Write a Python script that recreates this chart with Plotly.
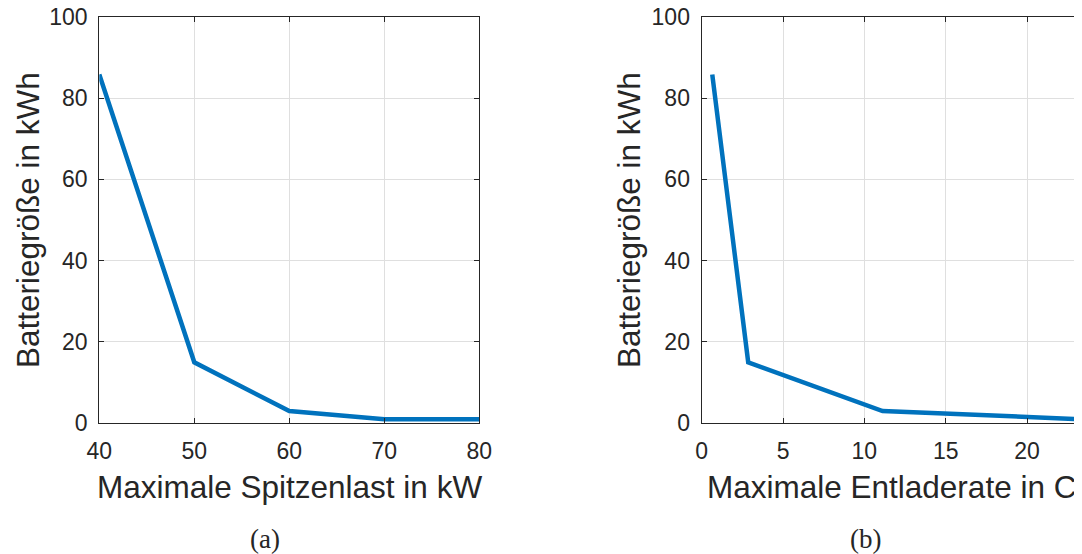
import plotly.graph_objects as go

# Data
peak_load_kw = [40, 50, 60, 70, 80]
battery_kwh_a = [85.8, 15.0, 3.0, 1.0, 1.0]
discharge_rate_c = [0.65, 2.86, 11.12, 23.4]
battery_kwh_b = [85.8, 15.0, 3.0, 1.0]

x_ticks_a = [40, 50, 60, 70, 80]
x_ticks_b = [0, 5, 10, 15, 20]
y_ticks = [0, 20, 40, 60, 80, 100]

PAGE_OFF = 8  # default body margin of the html page
W, H = 1082 - PAGE_OFF, 554 - PAGE_OFF
TXT = "#262626"
LINE = "#0072BD"
GRID = "#dfdfdf"
SANS = "Liberation Sans, Arial, sans-serif"
SERIF = "Liberation Serif, Times New Roman, serif"

fig = go.Figure()
fig.add_trace(go.Scatter(x=peak_load_kw, y=battery_kwh_a, mode="lines",
                         line=dict(color=LINE, width=4.5), xaxis="x", yaxis="y",
                         showlegend=False, cliponaxis=True))
fig.add_trace(go.Scatter(x=discharge_rate_c, y=battery_kwh_b, mode="lines",
                         line=dict(color=LINE, width=4.5), xaxis="x2", yaxis="y2",
                         showlegend=False, cliponaxis=True))

def px_x(p):
    return (p - PAGE_OFF) / W

def px_y(p):
    return 1 - (p - PAGE_OFF) / H

ydom = [px_y(423.3), px_y(16.7)]
common = dict(showline=True, linecolor=TXT, linewidth=1.3, mirror="allticks",
              ticks="inside", ticklen=5, tickwidth=1.2, tickcolor=TXT,
              showgrid=True, gridcolor=GRID, gridwidth=1, zeroline=False,
              ticklabeloverflow="allow",
              tickfont=dict(family=SANS, size=23, color=TXT), automargin=False)

fig.update_layout(
    width=W, height=H,
    margin=dict(l=0, r=0, t=0, b=0),
    paper_bgcolor="white", plot_bgcolor="white",
    xaxis=dict(domain=[px_x(99.3), px_x(479.3)], range=[40, 80], tickvals=x_ticks_a,
               anchor="y", ticklabelstandoff=7, **common),
    yaxis=dict(domain=ydom, range=[0, 100], tickvals=y_ticks, anchor="x",
               ticklabelstandoff=6, **common),
    xaxis2=dict(domain=[px_x(701.7), min(1.0, px_x(1081.5))], range=[0, 23.35],
                tickvals=x_ticks_b, anchor="y2", ticklabelstandoff=7, **common),
    yaxis2=dict(domain=ydom, range=[0, 100], tickvals=y_ticks, anchor="x2",
                ticklabelstandoff=6, **common),
)

annots = [
    dict(text="Maximale Spitzenlast in kW", x=px_x(289), y=px_y(487), size=31.5, family=SANS, angle=0),
    dict(text="Maximale Entladerate in C", x=px_x(891), y=px_y(487), size=31.5, family=SANS, angle=0),
    dict(text="Batteriegröße in kWh", x=px_x(28), y=px_y(220), size=31.5, family=SANS, angle=-90),
    dict(text="Batteriegröße in kWh", x=px_x(629), y=px_y(220), size=31.5, family=SANS, angle=-90),
    dict(text="(a)", x=px_x(265), y=px_y(539), size=27, family=SERIF, angle=0),
    dict(text="(b)", x=px_x(865), y=px_y(539), size=27, family=SERIF, angle=0),
]
for a in annots:
    fig.add_annotation(text=a["text"], x=a["x"], y=a["y"], xref="paper", yref="paper",
                       xanchor="center", yanchor="middle", showarrow=False,
                       textangle=a["angle"], font=dict(family=a["family"], size=a["size"], color=TXT))

fig.write_html("out.html")
